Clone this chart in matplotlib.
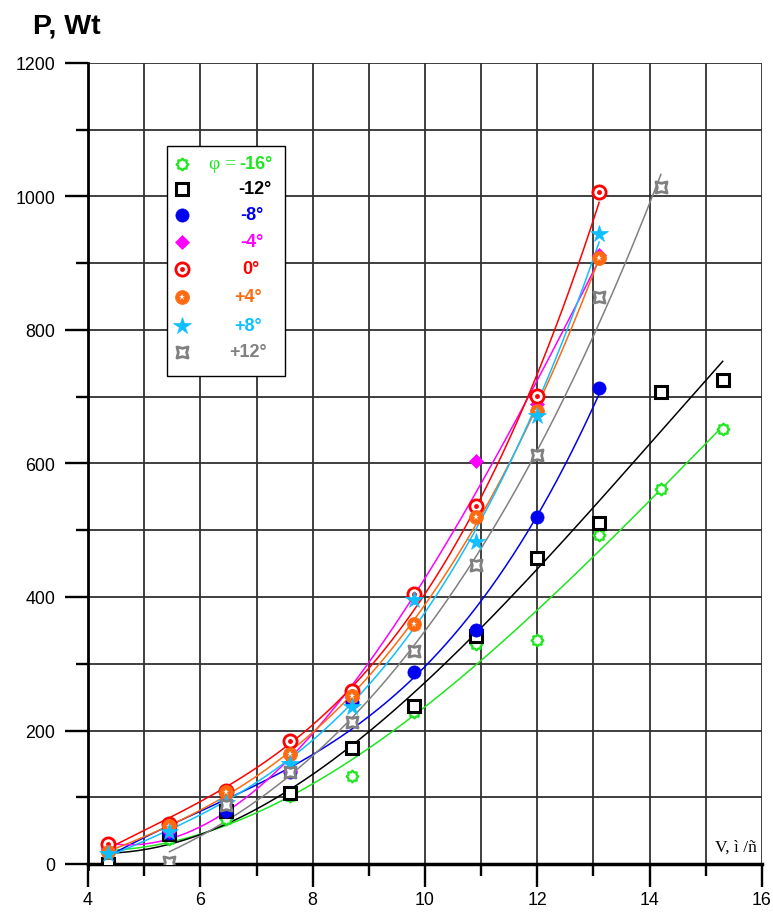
import numpy as np
import matplotlib
matplotlib.use("Agg")
import matplotlib.pyplot as plt
from matplotlib.path import Path
from matplotlib.patches import Rectangle

# ---------------- data ----------------
v_full = [4.35, 5.45, 6.45, 7.6, 8.7, 9.8, 10.9, 12.0, 13.1, 14.2, 15.3]
v_short = [4.35, 5.45, 6.45, 7.6, 8.7, 9.8, 10.9, 12.0, 13.1]
v_p12 = [5.45, 6.45, 7.6, 8.7, 9.8, 10.9, 12.0, 13.1, 14.2]

p_m16 = [15, 37, 68, 102, 132, 228, 330, 336, 493, 562, 652]
p_m12 = [0, 45, 79, 106, 174, 237, 342, 458, 511, 707, 725]
p_m8 = [22, 47, 80, 138, 243, 288, 350, 520, 713]
p_m4 = [22, 50, 95, 140, 248, 400, 604, 689, 912]
p_0 = [30, 60, 110, 184, 259, 405, 536, 701, 1007]
p_p4 = [18, 57, 108, 165, 252, 360, 520, 679, 908]
p_p8 = [15, 48, 92, 150, 235, 395, 482, 671, 944]
p_p12 = [3, 88, 138, 212, 319, 448, 613, 849, 1014]

labels = ["-16°", "-12°", "-8°", "-4°", "0°", "+4°", "+8°", "+12°"]
x_ticks = [4, 6, 8, 10, 12, 14, 16]
y_ticks = [0, 200, 400, 600, 800, 1000, 1200]

# ---------------- markers ----------------
def gear_path(n=8, r_out=1.0, r_in=0.74):
    ang = np.linspace(0, 2 * np.pi, 2 * n, endpoint=False) + np.pi / 2
    rr = np.where(np.arange(2 * n) % 2 == 0, r_out, r_in)
    verts = np.column_stack([rr * np.cos(ang), rr * np.sin(ang)])
    verts = np.vstack([verts, verts[:1]])
    codes = [Path.MOVETO] + [Path.LINETO] * (2 * n - 1) + [Path.CLOSEPOLY]
    return Path(verts, codes)

def concave_square_path():
    verts = [(-1, -1), (0, -0.75), (1, -1), (0.75, 0), (1, 1), (0, 0.75),
             (-1, 1), (-0.75, 0), (-1, -1)]
    codes = [Path.MOVETO] + [Path.LINETO] * 7 + [Path.CLOSEPOLY]
    return Path(verts, codes)

GEAR = gear_path()
CSQ = concave_square_path()

green = "#1EE61E"
black = "#000000"
blue = "#0000F0"
magenta = "#FF00FF"
red = "#FF0000"
orange = "#FF6A10"
cyan = "#10BFFF"
gray = "#808080"

series = [
    (v_full, p_m16, green),
    (v_full, p_m12, black),
    (v_short, p_m8, blue),
    (v_short, p_m4, magenta),
    (v_short, p_0, red),
    (v_short, p_p4, orange),
    (v_short, p_p8, cyan),
    (v_p12, p_p12, gray),
]

def draw_marker(ax, x, y, idx, transform=None, zorder=5):
    kw = {}
    if transform is not None:
        kw["transform"] = transform
    kw["clip_on"] = False if transform is not None else True
    if idx == 0:
        ax.plot(x, y, ls="none", marker=GEAR, ms=8.5, mfc="white", mec=green, mew=1.6, zorder=zorder, **kw)
    elif idx == 1:
        ax.plot(x, y, ls="none", marker="s", ms=8.5, mfc="white", mec=black, mew=2.2, zorder=zorder, **kw)
    elif idx == 2:
        ax.plot(x, y, ls="none", marker="o", ms=9.5, mfc=blue, mec=blue, mew=0.5, zorder=zorder, **kw)
    elif idx == 3:
        ax.plot(x, y, ls="none", marker="D", ms=7, mfc=magenta, mec=magenta, mew=0.5, zorder=zorder, **kw)
    elif idx == 4:
        ax.plot(x, y, ls="none", marker="o", ms=9.5, mfc="white", mec=red, mew=2.0, zorder=zorder, **kw)
        ax.plot(x, y, ls="none", marker="o", ms=3.5, mfc=red, mec=red, mew=0, zorder=zorder + 0.1, **kw)
    elif idx == 5:
        ax.plot(x, y, ls="none", marker="o", ms=10, mfc=orange, mec=orange, mew=0.5, zorder=zorder, **kw)
        ax.plot(x, y, ls="none", marker="*", ms=5, mfc="white", mec="white", mew=0, zorder=zorder + 0.1, **kw)
    elif idx == 6:
        ax.plot(x, y, ls="none", marker="*", ms=13, mfc=cyan, mec=cyan, mew=0.5, zorder=zorder, **kw)
    elif idx == 7:
        ax.plot(x, y, ls="none", marker=CSQ, ms=8, mfc="white", mec=gray, mew=2.0, zorder=zorder, **kw)

# ---------------- figure ----------------
fig = plt.figure(figsize=(7.73, 9.2), dpi=100)
ax = fig.add_axes([88 / 773, 1 - 865 / 920, 674 / 773, 801 / 920])
ax.set_xlim(4, 16)
ax.set_ylim(0, 1200)

# grid
for gx in range(5, 17):
    ax.axvline(gx, color="#303030", lw=1.3, zorder=1)
for gy in range(100, 1201, 100):
    ax.axhline(gy, color="#303030", lw=1.3, zorder=1)

# fitted curves
for i, (xs, ys, col) in enumerate(series):
    xs = np.asarray(xs, float)
    ys = np.asarray(ys, float)
    coef = np.polyfit(xs, ys, 3)
    xx = np.linspace(xs[0], xs[-1], 200)
    ax.plot(xx, np.polyval(coef, xx), color=col, lw=1.1, zorder=3)

# markers
for i, (xs, ys, col) in enumerate(series):
    draw_marker(ax, xs, ys, i, zorder=5 + i * 0.2)

# spines & ticks
for s in ["top", "right"]:
    ax.spines[s].set_visible(False)
ax.spines["left"].set_linewidth(2.0)
ax.spines["bottom"].set_linewidth(2.5)
ax.spines["left"].set_bounds(-8, 1200)

ax.set_xticks(x_ticks)
ax.set_xticklabels([str(t) for t in x_ticks])
ax.set_xticks(range(5, 17, 2), minor=True)
ax.set_yticks(y_ticks)
ax.set_yticklabels([str(t) for t in y_ticks])
ax.set_yticks(range(100, 1200, 200), minor=True)
ax.tick_params(axis="both", which="major", length=16.5, width=1.7, direction="out",
               labelsize=12.8, color="black")
ax.tick_params(axis="both", which="minor", length=8.5, width=1.7, direction="out", color="black")
ax.tick_params(axis="x", which="major", pad=3)
ax.tick_params(axis="y", which="major", pad=7)
for lab in ax.get_xticklabels() + ax.get_yticklabels():
    lab.set_fontfamily("Liberation Sans")

# titles
fig.text(33 / 773, 1 - 33 / 920, "P, Wt", fontsize=20.5, fontweight="bold",
         family="Liberation Sans", ha="left", va="baseline")
ax.text(0.993, 0.017, "V, ì /ñ", transform=ax.transAxes, fontsize=12.5,
        family="Liberation Serif", ha="right", va="baseline", zorder=6)

# legend box
lx0, lx1 = (167 - 88) / 674, (285 - 88) / 674
ly0, ly1 = (865 - 377) / 801, (865 - 147) / 801
ax.add_patch(Rectangle((lx0, ly0), lx1 - lx0, ly1 - ly0, transform=ax.transAxes,
                       facecolor="white", edgecolor="black", lw=1.0, zorder=10))
row_px = [165, 190, 216, 243, 270, 298, 327, 353]
text_centers_px = [256, 255, 252, 252, 251, 248, 248, 248]
cols = [s[2] for s in series]
for i, (rp, tc) in enumerate(zip(row_px, text_centers_px)):
    yf = (865 - rp) / 801
    draw_marker(ax, [(182 - 88) / 674], [yf], i, transform=ax.transAxes, zorder=11)
    if i == 0:
        ax.text((236 - 88) / 674, yf, "φ =", transform=ax.transAxes, color=cols[i],
                fontsize=14, family="Liberation Serif", ha="right", va="center", zorder=12)
        ax.text((239 - 88) / 674, yf, labels[i], transform=ax.transAxes, color=cols[i],
                fontsize=13, fontweight="bold", family="Liberation Sans",
                ha="left", va="center", zorder=12)
    else:
        ax.text((tc - 88) / 674, yf, labels[i], transform=ax.transAxes, color=cols[i],
                fontsize=13, fontweight="bold", family="Liberation Sans",
                ha="center", va="center", zorder=12)

fig.savefig("out.png", dpi=100)
